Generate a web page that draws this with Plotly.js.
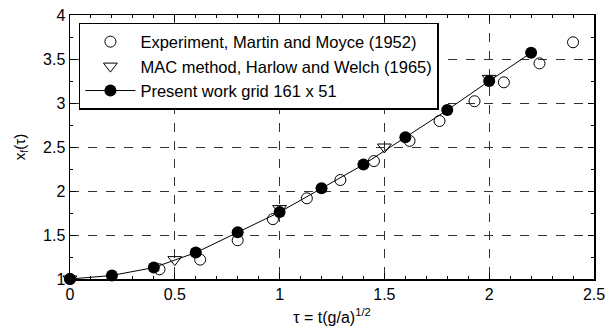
<!DOCTYPE html>
<html>
<head>
<meta charset="utf-8">
<script src="https://cdn.plot.ly/plotly-3.0.1.min.js"></script>
<style>html,body{margin:0;padding:0;background:#fff;}#chart{width:607px;height:336px;}</style>
</head>
<body>
<div id="chart"></div>
<script>
// Experiment, Martin and Moyce (1952)
const expX = [0, 0.427, 0.621, 0.80, 0.968, 1.13, 1.29, 1.45, 1.62, 1.763, 1.93, 2.07, 2.24, 2.40];
const expY = [1.0, 1.11, 1.22, 1.44, 1.68, 1.917, 2.125, 2.34, 2.57, 2.795, 3.02, 3.235, 3.45, 3.69];
// MAC method, Harlow and Welch (1965)
const macX = [0, 0.5, 1.0, 1.5, 2.0];
const macY = [1.0, 1.22, 1.80, 2.50, 3.28];
// Present work grid 161 x 51
const presX = [0, 0.2, 0.4, 0.6, 0.8, 1.0, 1.2, 1.4, 1.6, 1.8, 2.0, 2.2];
const presY = [1.0, 1.04, 1.13, 1.30, 1.53, 1.76, 2.03, 2.30, 2.61, 2.92, 3.25, 3.57];

const names = ['Experiment, Martin and Moyce (1952)', 'MAC method, Harlow and Welch (1965)', 'Present work grid 161 x 51'];
const xTicks = [0, 0.5, 1, 1.5, 2, 2.5];
const yTicks = [1, 1.5, 2, 2.5, 3, 3.5, 4];

const FONT = 'Liberation Sans, Arial, sans-serif';

const traces = [
  {x: expX, y: expY, name: names[0], mode: 'markers', type: 'scatter', cliponaxis: false,
   marker: {symbol: 'circle-open', size: 11, color: '#000', line: {width: 1, color: '#000'}}},
  {x: macX, y: macY, name: names[1], mode: 'markers', type: 'scatter', cliponaxis: false,
   marker: {symbol: 'triangle-down-open', size: 12, color: '#000', line: {width: 1, color: '#000'}}},
  {x: presX, y: presY, name: names[2], mode: 'lines+markers', type: 'scatter', cliponaxis: false,
   line: {color: '#000', width: 1},
   marker: {symbol: 'circle', size: 12, color: '#000'}}
];

const axisCommon = {
  showline: true, linecolor: '#000', linewidth: 1.5, mirror: 'allticks',
  ticks: 'inside', ticklen: 6, tickcolor: '#000', tickwidth: 1,
  showgrid: true, gridcolor: '#333', griddash: 'dash', gridwidth: 1,
  zeroline: false,
  tickfont: {family: FONT, size: 16, color: '#000'}
};

const layout = {
  width: 607, height: 336,
  margin: {l: 70, r: 13, t: 15, b: 57},
  paper_bgcolor: '#fff', plot_bgcolor: '#fff',
  showlegend: true,
  legend: {x: 0.017, y: 0.97, xanchor: 'left', yanchor: 'top',
    bordercolor: '#000', borderwidth: 1.5, bgcolor: '#fff',
    itemwidth: 50,
    font: {family: FONT, size: 16.5, color: '#000'},
    tracegroupgap: 0},
  xaxis: Object.assign({}, axisCommon, {
    range: [0, 2.5], tickvals: xTicks, ticktext: xTicks.map(String),
    minor: {dtick: 0.1, ticks: 'inside', ticklen: 3, tickcolor: '#000', showgrid: false},
    title: {text: 'τ = t(g/a)<sup>1/2</sup>', standoff: 10,
      font: {family: FONT, size: 16, color: '#000'}}
  }),
  yaxis: Object.assign({}, axisCommon, {
    range: [1, 4], tickvals: yTicks, ticktext: yTicks.map(String),
    minor: {dtick: 0.25, ticks: 'inside', ticklen: 3, tickcolor: '#000', showgrid: false},
    title: {text: 'x<sub>f</sub>(τ)', standoff: 14,
      font: {family: FONT, size: 15, color: '#000'}}
  })
};

Plotly.newPlot('chart', traces, layout, {displayModeBar: false, staticPlot: true});
</script>
</body>
</html>
